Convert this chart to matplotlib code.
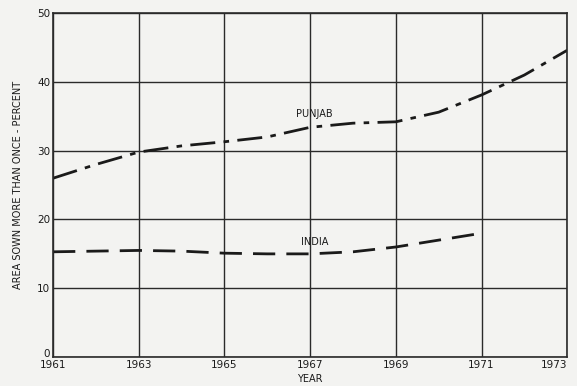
import matplotlib
matplotlib.use('Agg')
import matplotlib.pyplot as plt

# values
years = [1961, 1962, 1963, 1964, 1965, 1966, 1967, 1968, 1969, 1970, 1971, 1972, 1973]
punjab = [26.0, 28.0, 29.8, 30.7, 31.3, 32.0, 33.4, 34.0, 34.2, 35.6, 38.1, 41.0, 44.6]
india_years = [1961, 1962, 1963, 1964, 1965, 1966, 1967, 1968, 1969, 1970, 1971]
india = [15.3, 15.4, 15.5, 15.4, 15.1, 15.0, 15.0, 15.3, 16.0, 17.0, 18.0]
xticks = [1961, 1963, 1965, 1967, 1969, 1971, 1973]
yticks = [0, 10, 20, 30, 40, 50]

bg = '#f3f3f1'
ink = '#1a1a1a'
tickfont = ['Liberation Sans Narrow', 'DejaVu Sans']

fig = plt.figure(figsize=(5.77, 3.86), dpi=100, facecolor=bg)
ax = fig.add_axes([0.092, 0.075, 0.891, 0.891], facecolor=bg)

ax.plot(years, punjab, color=ink, lw=2.0, dashes=(9, 3, 2, 3))
ax.plot(india_years, india, color=ink, lw=2.0, dashes=(8, 4))

ax.set_xlim(1961, 1973)
ax.set_ylim(0, 50)
ax.set_xticks(xticks)
ax.set_yticks(yticks)
ax.grid(True, color='#2a2a2a', lw=1.0)
for s in ax.spines.values():
    s.set_color('#2a2a2a')
    s.set_linewidth(1.2)
ax.tick_params(length=0, labelsize=7.5, colors=ink, pad=2)
for lab in ax.get_xticklabels() + ax.get_yticklabels():
    lab.set_fontfamily(tickfont)
ax.get_yticklabels()[0].set_va('baseline')
ax.get_xticklabels()[-1].set_ha('right')

ax.text(1967.1, 35.3, 'PUNJAB', fontsize=7, color=ink, ha='center', va='center')
ax.text(1967.1, 16.7, 'INDIA', fontsize=7, color=ink, ha='center', va='center')

ax.set_xlabel('YEAR', fontsize=7, color=ink, labelpad=3)
ax.set_ylabel('AREA SOWN MORE THAN ONCE - PERCENT', fontsize=7, color=ink, labelpad=10)

fig.savefig('out.png', dpi=100, facecolor=bg)
